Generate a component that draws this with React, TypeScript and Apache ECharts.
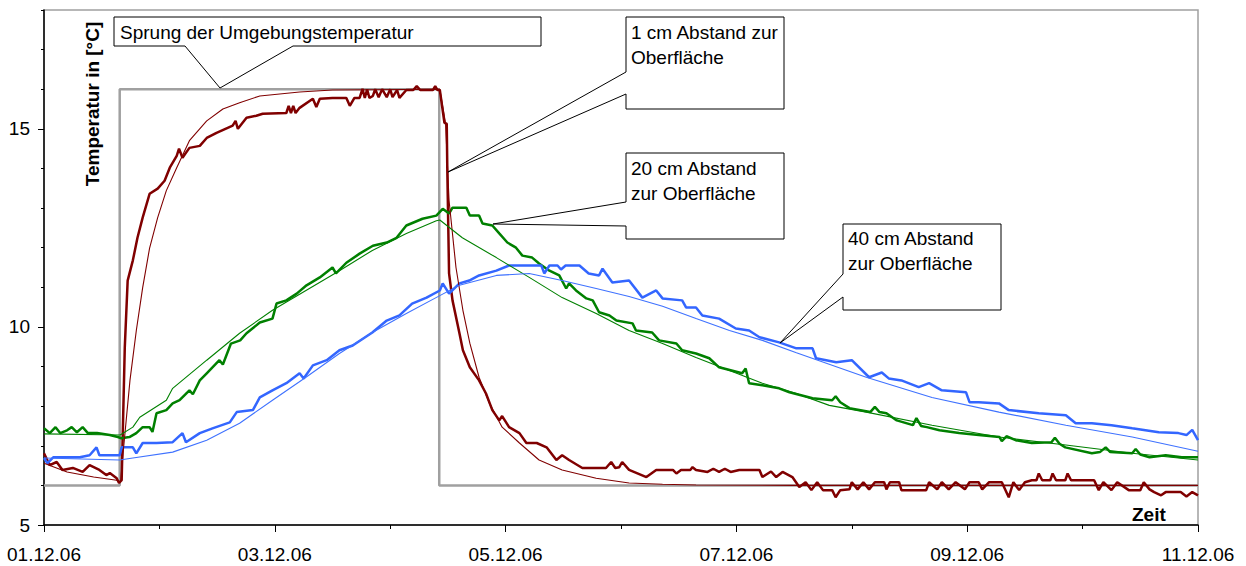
import React, { useEffect, useRef } from 'react';
import * as echarts from 'echarts';

// time in days since 01.12.06 00:00, temperature in °C
const xLabels = ['01.12.06', '03.12.06', '05.12.06', '07.12.06', '09.12.06', '11.12.06'];
const yLabelValues = [5, 10, 15];

const ambientStep: number[][] = [[0, 6], [0.656, 6], [0.656, 16], [3.425, 16], [3.425, 6], [10, 6]];

const measured1cm: number[][] = [
  [0, 6.81], [0.05, 6.51], [0.11, 6.59], [0.16, 6.39], [0.25, 6.44], [0.335, 6.34], [0.395, 6.51], [0.48, 6.39],
  [0.54, 6.26], [0.57, 6.31], [0.63, 6.18], [0.65, 6.06], [0.673, 6.13], [0.7, 9.48], [0.725, 11.17], [0.77, 11.68],
  [0.81, 12.25], [0.855, 12.76], [0.915, 13.36], [0.985, 13.49], [1.045, 13.69], [1.09, 14.02], [1.15, 14.32],
  [1.17, 14.5], [1.2, 14.27], [1.26, 14.52], [1.35, 14.57], [1.41, 14.77], [1.495, 14.9], [1.635, 15.08],
  [1.66, 15.2], [1.68, 15.0], [1.755, 15.28], [1.84, 15.33], [1.895, 15.38], [2.1, 15.4], [2.12, 15.58],
  [2.14, 15.4], [2.16, 15.58], [2.18, 15.4], [2.215, 15.53], [2.33, 15.76], [2.36, 15.55], [2.39, 15.76],
  [2.5, 15.78], [2.62, 15.78], [2.65, 15.58], [2.69, 15.78], [2.735, 15.78], [2.76, 16.01], [2.78, 15.78],
  [2.8, 16.0], [2.82, 15.78], [2.85, 15.83], [2.87, 16.0], [2.9, 15.8], [2.93, 16.0], [2.97, 15.8],
  [3.0, 16.0], [3.02, 15.8], [3.06, 15.98], [3.08, 15.78], [3.14, 15.98], [3.2, 15.98], [3.23, 16.08],
  [3.26, 15.98], [3.37, 15.98], [3.39, 16.08], [3.41, 15.98], [3.43, 15.98], [3.47, 15.15], [3.49, 15.13],
  [3.495, 13.94], [3.51, 11.35], [3.54, 10.67], [3.6, 9.84], [3.63, 9.41], [3.69, 8.98], [3.77, 8.65],
  [3.83, 8.32], [3.885, 7.9], [3.945, 7.64], [3.97, 7.75], [4.03, 7.47], [4.12, 7.32], [4.18, 7.07],
  [4.27, 7.07], [4.355, 6.96], [4.44, 6.64], [4.49, 6.76], [4.55, 6.64], [4.665, 6.44], [4.87, 6.44],
  [4.915, 6.59], [4.95, 6.44], [4.985, 6.46], [5.01, 6.59], [5.07, 6.39], [5.22, 6.21], [5.305, 6.39],
  [5.45, 6.39], [5.48, 6.3], [5.52, 6.39], [5.6, 6.39], [5.62, 6.46], [5.65, 6.39], [5.75, 6.34], [5.8, 6.42],
  [5.85, 6.34], [5.9, 6.42], [5.95, 6.34], [6.025, 6.39], [6.2, 6.39], [6.225, 6.21], [6.3, 6.35],
  [6.345, 6.21], [6.4, 6.34], [6.485, 6.21], [6.545, 5.96], [6.6, 6.08], [6.65, 5.88], [6.7, 6.08],
  [6.75, 5.88], [6.83, 5.88], [6.86, 5.7], [6.9, 5.88], [6.98, 5.9], [7.0, 6.08], [7.05, 5.9], [7.1, 6.08],
  [7.15, 5.9], [7.2, 6.08], [7.28, 6.08], [7.3, 5.9], [7.33, 6.08], [7.41, 6.08], [7.43, 5.88], [7.645, 5.88],
  [7.67, 6.08], [7.74, 5.9], [7.78, 6.08], [7.84, 5.9], [7.9, 6.08], [7.98, 5.9], [8.02, 6.08], [8.1, 6.08],
  [8.13, 5.9], [8.19, 6.08], [8.3, 6.08], [8.36, 5.7], [8.4, 6.08], [8.45, 5.88], [8.5, 6.08], [8.56, 6.13],
  [8.6, 6.13], [8.62, 6.3], [8.65, 6.13], [8.72, 6.13], [8.74, 6.3], [8.77, 6.13], [8.85, 6.13], [8.87, 6.3],
  [8.9, 6.13], [9.1, 6.13], [9.14, 5.88], [9.18, 6.08], [9.25, 5.88], [9.3, 6.08], [9.4, 5.88], [9.5, 5.88],
  [9.53, 6.08], [9.58, 5.9], [9.62, 5.83], [9.68, 5.75], [9.72, 5.83], [9.85, 5.83], [9.9, 5.72],
  [9.95, 5.83], [10, 5.75],
];

const sim1cm: number[][] = [
  [0, 6.56], [0.2, 6.34], [0.43, 6.21], [0.63, 6.13], [0.656, 6.08], [0.665, 6.13], [0.69, 6.96],
  [0.745, 8.65], [0.8, 9.91], [0.855, 10.99], [0.915, 11.99], [0.985, 12.76], [1.06, 13.44], [1.15, 14.02],
  [1.26, 14.7], [1.41, 15.2], [1.55, 15.5], [1.695, 15.66], [1.87, 15.83], [2.215, 15.93], [2.5, 15.98],
  [3.43, 16.0], [3.48, 15.13], [3.51, 13.19], [3.57, 11.5], [3.63, 10.42], [3.69, 9.59], [3.77, 8.73],
  [3.86, 8.07], [3.97, 7.47], [4.12, 7.07], [4.29, 6.64], [4.49, 6.39], [4.785, 6.18], [5.07, 6.06],
  [5.36, 6.03], [5.65, 6.01], [6.5, 6.0], [10, 6.0],
];

const measured20cm: number[][] = [
  [0, 7.44], [0.05, 7.32], [0.1, 7.47], [0.14, 7.32], [0.2, 7.39], [0.24, 7.47], [0.285, 7.34], [0.335, 7.47],
  [0.38, 7.32], [0.46, 7.32], [0.57, 7.27], [0.64, 7.22], [0.67, 7.19], [0.74, 7.22], [0.8, 7.32],
  [0.855, 7.47], [0.915, 7.47], [0.94, 7.35], [0.975, 7.82], [1.06, 7.9], [1.115, 8.07], [1.175, 8.15],
  [1.26, 8.4], [1.29, 8.3], [1.35, 8.65], [1.41, 8.83], [1.52, 9.16], [1.55, 9.05], [1.62, 9.58], [1.7, 9.66],
  [1.755, 9.84], [1.87, 10.11], [1.98, 10.21], [2.015, 10.59], [2.1, 10.67], [2.19, 10.84], [2.275, 11.05],
  [2.39, 11.25], [2.5, 11.5], [2.53, 11.35], [2.62, 11.62], [2.735, 11.85], [2.85, 12.05], [2.97, 12.13],
  [3.055, 12.25], [3.14, 12.56], [3.28, 12.73], [3.4, 12.81], [3.455, 12.98], [3.51, 12.86], [3.54, 13.01],
  [3.66, 13.01], [3.69, 12.81], [3.77, 12.81], [3.8, 12.61], [3.885, 12.56], [3.945, 12.36], [4.015, 12.13],
  [4.09, 12.0], [4.145, 11.8], [4.23, 11.75], [4.29, 11.6], [4.38, 11.42], [4.465, 11.3], [4.525, 10.97],
  [4.55, 11.1], [4.61, 10.92], [4.7, 10.72], [4.755, 10.67], [4.81, 10.37], [4.9, 10.29], [4.96, 10.16],
  [5.1, 10.09], [5.13, 9.91], [5.27, 9.86], [5.33, 9.66], [5.48, 9.58], [5.53, 9.41], [5.65, 9.33],
  [5.765, 9.21], [5.85, 8.98], [6.05, 8.83], [6.08, 8.95], [6.11, 8.58], [6.225, 8.53], [6.37, 8.45],
  [6.46, 8.35], [6.66, 8.2], [6.83, 8.15], [6.86, 8.25], [6.9, 8.1], [6.98, 7.95], [7.16, 7.85], [7.2, 7.98],
  [7.24, 7.85], [7.3, 7.82], [7.39, 7.64], [7.53, 7.52], [7.56, 7.7], [7.6, 7.5], [7.65, 7.47], [7.76, 7.39],
  [7.93, 7.32], [8.1, 7.27], [8.28, 7.22], [8.3, 7.12], [8.34, 7.24], [8.42, 7.14], [8.56, 7.07],
  [8.73, 7.09], [8.76, 7.2], [8.8, 7.05], [8.85, 6.96], [9.08, 6.81], [9.15, 6.84], [9.2, 6.96],
  [9.24, 6.84], [9.43, 6.81], [9.46, 6.92], [9.5, 6.78], [9.58, 6.71], [9.72, 6.76], [9.86, 6.71],
  [10, 6.71],
];

const sim20cm: number[][] = [
  [0, 7.3], [0.66, 7.27], [0.77, 7.47], [0.83, 7.72], [1.06, 8.15], [1.115, 8.45], [1.41, 9.16],
  [1.695, 9.84], [1.98, 10.42], [2.27, 10.92], [2.56, 11.42], [2.845, 11.93], [3.14, 12.36], [3.4, 12.68],
  [3.43, 12.7], [3.625, 12.25], [3.92, 11.75], [4.205, 11.25], [4.49, 10.74], [4.785, 10.34], [5.07, 9.91],
  [5.36, 9.58], [5.65, 9.23], [5.94, 8.9], [6.225, 8.58], [6.52, 8.32], [6.805, 8.02], [7.125, 7.85],
  [7.695, 7.52], [8.275, 7.22], [8.855, 7.02], [9.43, 6.81], [10, 6.64],
];

const measured40cm: number[][] = [
  [0, 6.69], [0.03, 6.56], [0.08, 6.71], [0.31, 6.71], [0.395, 6.76], [0.455, 6.96], [0.48, 6.76],
  [0.656, 6.76], [0.673, 6.96], [0.77, 6.96], [0.8, 6.81], [0.855, 7.07], [0.975, 7.07], [1.115, 7.09],
  [1.2, 7.32], [1.23, 7.09], [1.35, 7.32], [1.46, 7.44], [1.61, 7.59], [1.67, 7.85], [1.81, 7.9],
  [1.87, 8.22], [1.98, 8.4], [2.1, 8.58], [2.215, 8.83], [2.25, 8.7], [2.33, 9.03], [2.45, 9.16], [2.56, 9.41],
  [2.675, 9.53], [2.845, 9.86], [2.97, 10.16], [3.08, 10.29], [3.19, 10.59], [3.315, 10.74], [3.43, 10.92],
  [3.455, 11.1], [3.51, 10.84], [3.6, 11.1], [3.685, 11.17], [3.77, 11.3], [3.92, 11.42], [4.03, 11.55],
  [4.205, 11.55], [4.31, 11.55], [4.335, 11.35], [4.38, 11.55], [4.45, 11.55], [4.48, 11.45], [4.52, 11.55],
  [4.64, 11.55], [4.72, 11.35], [4.81, 11.3], [4.84, 11.47], [4.925, 11.12], [5.07, 11.17], [5.185, 10.74],
  [5.305, 10.92], [5.36, 10.72], [5.53, 10.67], [5.565, 10.49], [5.65, 10.49], [5.705, 10.29], [5.85, 10.21],
  [5.995, 9.96], [6.11, 9.91], [6.2, 9.74], [6.37, 9.61], [6.52, 9.46], [6.66, 9.46], [6.69, 9.21],
  [6.865, 9.11], [7.0, 9.16], [7.15, 8.73], [7.26, 8.85], [7.32, 8.7], [7.43, 8.65], [7.58, 8.48],
  [7.67, 8.58], [7.78, 8.4], [7.99, 8.35], [8.02, 8.1], [8.1, 8.1], [8.275, 8.07], [8.36, 7.9], [8.62, 7.82],
  [8.855, 7.77], [8.94, 7.57], [9.08, 7.57], [9.25, 7.52], [9.43, 7.44], [9.66, 7.34], [9.83, 7.32],
  [9.9, 7.27], [9.95, 7.4], [10, 7.14],
];

const sim40cm: number[][] = [
  [0, 6.69], [0.656, 6.64], [0.77, 6.69], [1.115, 6.84], [1.41, 7.14], [1.695, 7.57], [1.98, 8.15],
  [2.27, 8.73], [2.56, 9.33], [2.845, 9.86], [3.14, 10.34], [3.43, 10.79], [3.6, 11.05], [3.92, 11.3],
  [4.205, 11.35], [4.49, 11.17], [4.785, 10.97], [5.07, 10.77], [5.36, 10.52], [5.65, 10.21], [5.94, 9.91],
  [6.225, 9.66], [6.52, 9.35], [7.125, 8.73], [7.695, 8.22], [8.275, 7.85], [8.855, 7.52], [9.43, 7.22],
  [10, 6.86],
];

const calloutAmbient = ['Sprung der Umgebungstemperatur'];
const callout1cm = ['1 cm Abstand zur', 'Oberfläche'];
const callout20cm = ['20 cm Abstand', 'zur Oberfläche'];
const callout40cm = ['40 cm Abstand', 'zur Oberfläche'];

const FONT = '"Liberation Sans", Arial, sans-serif';
const FS = 19;

function textLines(lines: string[], x: number, y0: number, step: number) {
  return lines.map((t, i) => ({
    type: 'text',
    x,
    y: y0 + i * step,
    z: 110,
    style: { text: t, font: `${FS}px ${FONT}`, fill: '#000', verticalAlign: 'middle', align: 'left' },
  }));
}

function poly(points: number[][]) {
  return {
    type: 'polygon',
    z: 100,
    shape: { points },
    style: { fill: '#fff', stroke: '#000', lineWidth: 1 },
  };
}

export default function App() {
  const ref = useRef<HTMLDivElement>(null);
  useEffect(() => {
    if (!ref.current) return;
    const chart = echarts.init(ref.current, undefined, { renderer: 'svg' });
    const line = (name: string, data: number[][], color: string, width: number) => ({
      name,
      type: 'line',
      data,
      showSymbol: false,
      symbol: 'none',
      xAxisIndex: 0,
      yAxisIndex: 0,
      lineStyle: { color, width },
      itemStyle: { color },
    });
    chart.setOption({
      animation: false,
      backgroundColor: '#fff',
      textStyle: { fontFamily: FONT },
      grid: { left: 44, right: 48, top: 10, bottom: 41, show: true, borderColor: '#a0a0a0', borderWidth: 1.5, backgroundColor: 'transparent' },
      xAxis: [{
        type: 'value', min: 0, max: 10, interval: 2,
        axisLine: { show: true, lineStyle: { color: '#000', width: 1.5 } },
        axisTick: { show: true, length: 7, inside: false, lineStyle: { color: '#000' } },
        minorTick: { show: true, splitNumber: 2, length: 4, lineStyle: { color: '#000' } },
        splitLine: { show: false },
        axisLabel: {
          margin: 20, color: '#000', fontSize: FS, fontFamily: FONT,
          formatter: (v: number) => xLabels[Math.round(v / 2)] ?? '',
        },
      }],
      yAxis: [
        {
          type: 'value', min: 5, max: 18, interval: 1,
          axisLine: { show: true, lineStyle: { color: '#000', width: 1.5 } },
          axisTick: { show: true, length: 3, inside: false, lineStyle: { color: '#000' } },
          splitLine: { show: false },
          axisLabel: {
            margin: 14, color: '#000', fontSize: FS, fontFamily: FONT,
            formatter: (v: number) => (yLabelValues.includes(v) ? String(v) : ''),
          },
        },
        {
          type: 'value', min: 5, max: 18, position: 'left',
          axisLine: { show: false },
          axisTick: { show: true, length: 6, inside: false, customValues: yLabelValues, lineStyle: { color: '#000' } },
          axisLabel: { show: false },
          splitLine: { show: false },
        },
      ],
      series: [
        line('Umgebung', ambientStep, '#a0a0a0', 2.5),
        line('1 cm gemessen', measured1cm, '#800000', 2.5),
        line('20 cm gemessen', measured20cm, '#008000', 2.5),
        line('40 cm gemessen', measured40cm, '#3366ff', 2.5),
        line('1 cm berechnet', sim1cm, '#800000', 1.1),
        line('20 cm berechnet', sim20cm, '#008000', 1.1),
        line('40 cm berechnet', sim40cm, '#3f72ff', 1.1),
      ],
      graphic: [
        poly([[114, 17], [541, 17], [541, 46], [293, 46], [220, 88], [185, 46], [114, 46]]),
        ...textLines(calloutAmbient, 120, 32, 25),
        poly([[626, 17], [784, 17], [784, 109], [626, 109], [626, 94], [448, 172], [626, 72]]),
        ...textLines(callout1cm, 631, 32, 25),
        poly([[626, 153], [784, 153], [784, 239], [626, 239], [626, 226], [493, 224], [626, 202]]),
        ...textLines(callout20cm, 631, 168, 25),
        poly([[843, 224], [1001, 224], [1001, 310], [843, 310], [843, 297], [780, 343], [843, 274]]),
        ...textLines(callout40cm, 848, 238, 25),
        {
          type: 'text', x: 92, y: 104, rotation: Math.PI / 2, z: 110,
          style: { text: 'Temperatur in [°C]', font: `bold ${FS}px ${FONT}`, fill: '#000', align: 'center', verticalAlign: 'middle' },
        },
        {
          type: 'text', x: 1132, y: 514, z: 110,
          style: { text: 'Zeit', font: `bold ${FS}px ${FONT}`, fill: '#000', align: 'left', verticalAlign: 'middle' },
        },
      ],
    });
    return () => chart.dispose();
  }, []);
  return (
    <div
      ref={ref}
      style={{ position: 'fixed', left: 0, top: 0, width: 1246, height: 566, background: '#fff' }}
    />
  );
}
